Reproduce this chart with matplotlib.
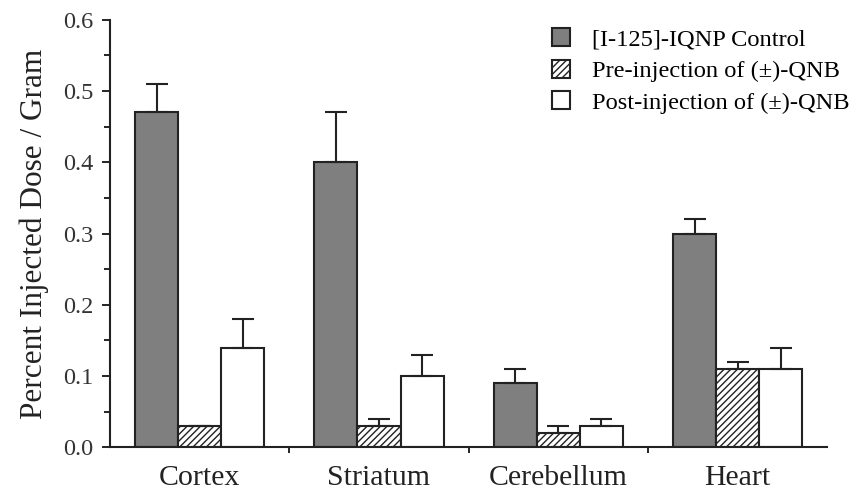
import matplotlib.pyplot as plt
from matplotlib.ticker import MultipleLocator
import numpy as np

plt.rcParams['font.family'] = ['Liberation Serif', 'DejaVu Serif']
plt.rcParams['hatch.linewidth'] = 1.0

regions = ['Cortex', 'Striatum', 'Cerebellum', 'Heart']
control = [0.47, 0.40, 0.09, 0.30]
control_err = [0.04, 0.07, 0.02, 0.02]
pre_qnb = [0.03, 0.03, 0.02, 0.11]
pre_err = [0.0, 0.01, 0.01, 0.01]
post_qnb = [0.14, 0.10, 0.03, 0.11]
post_err = [0.04, 0.03, 0.01, 0.03]

labels = ['[I-125]-IQNP Control', 'Pre-injection of (\u00b1)-QNB',
          'Post-injection of (\u00b1)-QNB']

fig = plt.figure(figsize=(8.56, 4.97), dpi=100)
ax = fig.add_axes([0.1285, 0.100, 0.838, 0.860])

x = np.arange(len(regions))
w = 0.24
err_kw = dict(ecolor='#222222', elinewidth=1.5, capsize=8, capthick=1.5)

ax.bar(x - w, control, w, yerr=[np.zeros(4), control_err], color='#7f7f7f',
       edgecolor='#222222', linewidth=1.5, label=labels[0], error_kw=err_kw)
ax.bar(x, pre_qnb, w, yerr=[np.zeros(4), pre_err], color='white', hatch='/////',
       edgecolor='#222222', linewidth=1.5, label=labels[1], error_kw=err_kw)
ax.bar(x + w, post_qnb, w, yerr=[np.zeros(4), post_err], color='white',
       edgecolor='#222222', linewidth=1.5, label=labels[2], error_kw=err_kw)

ax.set_xlim(-0.5, 3.5)
ax.set_ylim(0, 0.6)
ax.yaxis.set_major_locator(MultipleLocator(0.1))
ax.yaxis.set_minor_locator(MultipleLocator(0.05))
ax.yaxis.set_major_formatter(plt.FuncFormatter(lambda v, _: '{:.1f}'.format(v)))

ax.set_xticks(x)
ax.set_xticklabels(regions, fontsize=21.5, color='#222222')
ax.set_xticks([0.5, 1.5, 2.5], minor=True)
ax.tick_params(axis='x', which='major', length=0, pad=13)
ax.tick_params(axis='x', which='minor', length=4, width=1.2)
ax.tick_params(axis='y', which='major', length=6, width=1.2, pad=6, labelsize=17.5,
               labelcolor='#333333')
ax.tick_params(axis='y', which='minor', length=4, width=1.2)

for s in ['top', 'right']:
    ax.spines[s].set_visible(False)
for s in ['left', 'bottom']:
    ax.spines[s].set_linewidth(1.5)
    ax.spines[s].set_color('#222222')

ax.set_ylabel('Percent Injected Dose / Gram', fontsize=22.5, labelpad=10,
              color='#222222')

fig.legend(loc='upper left', bbox_to_anchor=(0.645, 0.944), frameon=False,
           fontsize=17.6, borderpad=0, borderaxespad=0,
           handlelength=0.75, handleheight=0.75, handletextpad=0.9,
           labelspacing=0.38)

fig.savefig('out.png', dpi=100)
